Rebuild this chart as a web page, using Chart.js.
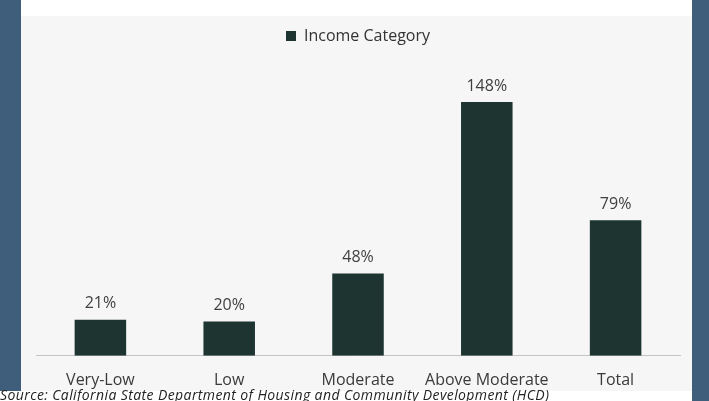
<!DOCTYPE html>
<html>
<head>
<meta charset="utf-8">
<script src="https://cdn.jsdelivr.net/npm/chart.js@4.4.1/dist/chart.umd.min.js"></script>
<style>
  html, body { margin: 0; padding: 0; }
  body { width: 709px; height: 401px; overflow: hidden; position: relative; background: #3e5e7b; }
  #wrap { position: absolute; left: 0; top: 0; width: 709px; height: 401px; }
  #band { position: absolute; left: 0; top: 391px; width: 692px; height: 10px; background: #ffffff; }
  #source {
    position: absolute; left: 0; top: 388px; font: italic 14px "Open Sans", sans-serif;
    color: #222; line-height: 14px; letter-spacing: 0.4px; white-space: nowrap;
  }
</style>
</head>
<body>
<div id="wrap"><canvas id="barChart"></canvas></div>
<div id="band"></div>
<div id="source">Source: California State Department of Housing and Community Development (HCD)</div>
<script>
const categories = ["Very-Low", "Low", "Moderate", "Above Moderate", "Total"];
const progress = [21, 20, 48, 148, 79];
const seriesName = "Income Category";

// light panel behind the plot
const panelBg = {
  id: "panelBg",
  beforeDraw(chart) {
    const ctx = chart.ctx;
    ctx.save();
    ctx.fillStyle = "#ffffff";
    ctx.fillRect(21, 0, 671, 16);
    ctx.fillStyle = "#f6f6f6";
    ctx.fillRect(21, 16, 671, 376);
    ctx.restore();
  }
};

// percentage above each bar
const valueLabels = {
  id: "valueLabels",
  afterDatasetsDraw(chart) {
    const ctx = chart.ctx;
    const meta = chart.getDatasetMeta(0);
    ctx.save();
    ctx.font = '16px "Open Sans", sans-serif';
    ctx.fillStyle = "#404040";
    ctx.textAlign = "center";
    ctx.textBaseline = "bottom";
    meta.data.forEach((bar, i) => {
      ctx.fillText(progress[i] + "%", bar.x, bar.y - 8);
    });
    ctx.restore();
  }
};

const ctx = document.getElementById("barChart").getContext("2d");
new Chart(ctx, {
  type: "bar",
  data: {
    labels: categories,
    datasets: [
      {
        label: seriesName,
        data: progress,
        backgroundColor: "#1d3430",
        barPercentage: 0.4,
        categoryPercentage: 1.0,
      },
    ],
  },
  options: {
    responsive: true,
    maintainAspectRatio: false,
    animation: false,
    layout: {
      padding: { left: 36, right: 29, top: 18, bottom: 4 },
    },
    scales: {
      x: {
        grid: { display: false },
        border: { display: true, color: "#c4c4c4", width: 1 },
        ticks: {
          color: "#3a3a3a",
          font: { family: "'Open Sans', sans-serif", size: 16 },
          padding: 7,
          maxRotation: 0,
        },
      },
      y: {
        display: false,
        beginAtZero: true,
        min: 0,
        max: 176,
      },
    },
    plugins: {
      legend: {
        display: true,
        labels: {
          boxWidth: 10,
          boxHeight: 10,
          color: "#333333",
          font: { family: "'Open Sans', sans-serif", size: 16 },
          padding: 10,
        },
      },
      tooltip: { enabled: false },
    },
  },
  plugins: [panelBg, valueLabels],
});
</script>
</body>
</html>
